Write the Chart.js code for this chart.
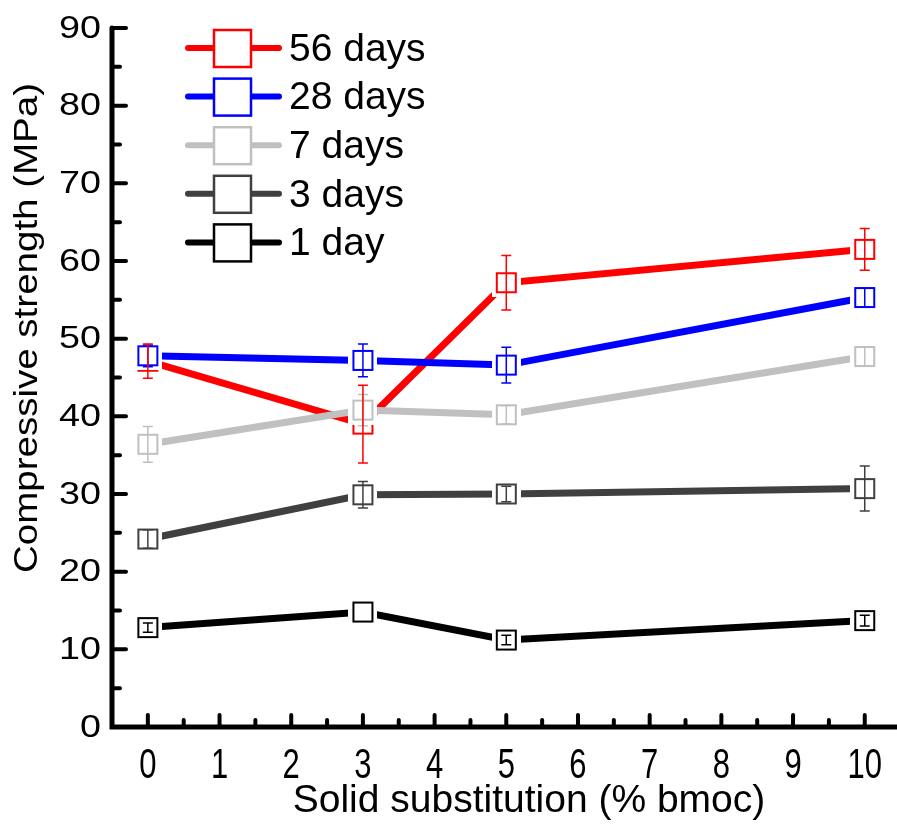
<!DOCTYPE html>
<html>
<head>
<meta charset="utf-8">
<script src="https://cdn.jsdelivr.net/npm/chart.js@4.4.1/dist/chart.umd.min.js"></script>
<style>
  html, body { margin: 0; padding: 0; background: #fff; }
  #wrap { width: 897px; height: 827px; }
</style>
</head>
<body>
<div id="wrap"><canvas id="strengthChart" width="897" height="827"></canvas></div>
<script>
// substitution levels (% bmoc) and mean compressive strength (MPa) per curing age
const substitution = [0, 3, 5, 10];
const days56 = [47.1, 39.0, 57.2, 61.5];
const days28 = [47.8, 47.2, 46.6, 55.3];
const days7 = [36.4, 40.8, 40.2, 47.7];
const days3 = [24.2, 29.9, 30.0, 30.7];
const days1 = [12.8, 14.8, 11.2, 13.7];

// standard deviations
const days56Err = [2.2, 5.0, 3.5, 2.7];
const days28Err = [1.4, 2.1, 2.3, 1.2];
const days7Err = [2.3, 2.0, 1.2, 1.2];
const days3Err = [1.2, 1.7, 1.0, 2.9];
const days1Err = [0.6, 0, 0.6, 0.7];

const seriesLabels = ['56 days', '28 days', '7 days', '3 days', '1 day'];
const seriesColors = ['#ff0000', '#0000ff', '#c0c0c0', '#404040', '#000000'];
const seriesValues = [days56, days28, days7, days3, days1];
const seriesErrors = [days56Err, days28Err, days7Err, days3Err, days1Err];

const xTicks = [0, 1, 2, 3, 4, 5, 6, 7, 8, 9, 10];
const yTicks = [0, 10, 20, 30, 40, 50, 60, 70, 80, 90];

const FONT = '"Liberation Sans", Arial, sans-serif';

// open square marker with a white margin so the line stops short of the box
function makeMarker(color, size, gap) {
  const c = document.createElement('canvas');
  const full = size + gap * 2;
  c.width = full;
  c.height = full;
  const g = c.getContext('2d');
  g.fillStyle = '#fff';
  g.fillRect(0, 0, full, full);
  g.strokeStyle = color;
  g.lineWidth = 2;
  g.strokeRect(gap + 1, gap + 1, size - 2, size - 2);
  return c;
}

const datasets = seriesLabels.map((label, i) => ({
  label: label,
  data: substitution.map((x, j) => ({ x: x, y: seriesValues[i][j] })),
  borderColor: seriesColors[i],
  borderWidth: 7,
  borderCapStyle: 'round',
  pointStyle: makeMarker(seriesColors[i], 21, 4),
  pointRadius: 15,
  showLine: true,
  tension: 0,
  order: seriesLabels.length - i
}));

// whiskers for the standard deviations
const errorBars = {
  id: 'errorBars',
  afterDatasetsDraw(chart) {
    const ctx = chart.ctx;
    const xs = chart.scales.x, ys = chart.scales.y;
    ctx.save();
    ctx.lineWidth = 1.5;
    for (let i = seriesLabels.length - 1; i >= 0; i--) {
      ctx.strokeStyle = seriesColors[i];
      substitution.forEach((x, j) => {
        if (!seriesErrors[i][j]) return;
        const px = xs.getPixelForValue(x);
        const top = ys.getPixelForValue(seriesValues[i][j] + seriesErrors[i][j]);
        const bot = ys.getPixelForValue(seriesValues[i][j] - seriesErrors[i][j]);
        ctx.beginPath();
        ctx.moveTo(px, top); ctx.lineTo(px, bot);
        ctx.moveTo(px - 5, top); ctx.lineTo(px + 5, top);
        ctx.moveTo(px - 5, bot); ctx.lineTo(px + 5, bot);
        ctx.stroke();
      });
    }
    ctx.restore();
  }
};

// axis lines, inward ticks, tick labels, axis titles and legend
const frame = {
  id: 'frame',
  afterDraw(chart) {
    const ctx = chart.ctx;
    const a = chart.chartArea;
    const xs = chart.scales.x, ys = chart.scales.y;
    ctx.save();
    ctx.strokeStyle = '#000';
    ctx.lineCap = 'round';

    ctx.lineWidth = 5;
    ctx.beginPath();
    ctx.moveTo(a.left, a.top);
    ctx.lineTo(a.left, a.bottom);
    ctx.lineTo(a.right, a.bottom);
    ctx.stroke();

    ctx.lineWidth = 4;
    ctx.beginPath();
    for (let v = 5; v <= 90; v += 5) {
      const py = ys.getPixelForValue(v);
      const len = v % 10 === 0 ? 14 : 8;
      ctx.moveTo(a.left, py); ctx.lineTo(a.left + len, py);
    }
    for (let v = 0; v <= 10; v += 0.5) {
      const px = xs.getPixelForValue(v);
      const len = Number.isInteger(v) ? 12 : 7;
      ctx.moveTo(px, a.bottom); ctx.lineTo(px, a.bottom - len);
    }
    ctx.stroke();

    ctx.fillStyle = '#000';
    // y tick labels, slightly wide
    ctx.font = '32px ' + FONT;
    ctx.textAlign = 'right';
    ctx.textBaseline = 'middle';
    yTicks.forEach(t => {
      ctx.save();
      ctx.translate(101, ys.getPixelForValue(t) + 1);
      ctx.scale(1.18, 1);
      ctx.fillText(String(t), 0, 0);
      ctx.restore();
    });

    // x tick labels, set tall and narrow
    ctx.font = '31px ' + FONT;
    ctx.textAlign = 'center';
    ctx.textBaseline = 'alphabetic';
    xTicks.forEach(t => {
      ctx.save();
      ctx.translate(xs.getPixelForValue(t), 778);
      ctx.scale(1, 1.35);
      ctx.fillText(String(t), 0, 0);
      ctx.restore();
    });

    // x title
    ctx.font = '39px ' + FONT;
    ctx.textBaseline = 'middle';
    ctx.fillText('Solid substitution (% bmoc)', 529, 801);

    // y title, stretched along its length
    ctx.save();
    ctx.translate(28, 328);
    ctx.rotate(-Math.PI / 2);
    ctx.font = '33px ' + FONT;
    const yTitle = 'Compressive strength (MPa)';
    ctx.scale(490 / ctx.measureText(yTitle).width, 1);
    ctx.fillText(yTitle, 0, 0);
    ctx.restore();

    // legend
    ctx.textAlign = 'left';
    ctx.font = '39px ' + FONT;
    seriesLabels.forEach((label, i) => {
      const cy = 48 + i * 48.6;
      ctx.strokeStyle = seriesColors[i];
      ctx.lineWidth = 6;
      ctx.beginPath();
      ctx.moveTo(188, cy); ctx.lineTo(279, cy);
      ctx.stroke();
      ctx.fillStyle = '#fff';
      ctx.fillRect(213, cy - 19, 39, 39);
      ctx.lineWidth = 2.5;
      ctx.strokeRect(214, cy - 18, 37, 37);
      ctx.fillStyle = '#000';
      ctx.fillText(label, 289, cy + 2);
    });
    ctx.restore();
  }
};

new Chart(document.getElementById('strengthChart'), {
  type: 'scatter',
  data: { datasets: datasets },
  options: {
    responsive: false,
    animation: false,
    layout: { autoPadding: false, padding: { top: 28, right: 0, left: 0, bottom: 0 } },
    plugins: { legend: { display: false }, tooltip: { enabled: false } },
    scales: {
      x: {
        type: 'linear',
        min: -0.5,
        max: 10.45,
        grid: { display: false },
        border: { display: false },
        ticks: { display: false },
        afterBuildTicks: s => { s.ticks = xTicks.map(v => ({ value: v })); },
        afterFit: s => { s.height = 100; s.paddingLeft = 0; s.paddingRight = 0; }
      },
      y: {
        min: 0,
        max: 90,
        grid: { display: false },
        border: { display: false },
        ticks: { display: false },
        afterBuildTicks: s => { s.ticks = yTicks.map(v => ({ value: v })); },
        afterFit: s => { s.width = 112; s.paddingTop = 0; s.paddingBottom = 0; }
      }
    }
  },
  plugins: [errorBars, frame]
});
</script>
</body>
</html>
